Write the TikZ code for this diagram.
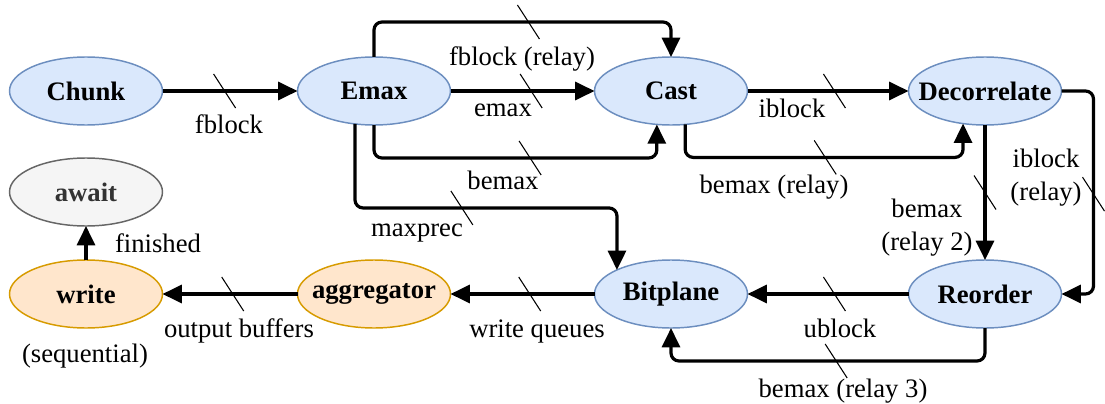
\documentclass[tikz,border=0pt]{standalone}
\usepackage{fontspec}
\setmainfont{Liberation Serif}
\usetikzlibrary{arrows.meta,shapes.geometric}
\definecolor{blueFill}{HTML}{DAE8FC}
\definecolor{blueLine}{HTML}{6C8EBF}
\definecolor{orangeFill}{HTML}{FFE6CC}
\definecolor{orangeLine}{HTML}{D79B00}
\definecolor{grayFill}{HTML}{F5F5F5}
\definecolor{grayLine}{HTML}{666666}
\definecolor{grayText}{HTML}{333333}

\begin{document}
\begin{tikzpicture}[x=0.75pt,y=-0.75pt,
  stage/.style={ellipse, minimum width=114.75pt, minimum height=51pt,
    inner xsep=-13pt, inner ysep=0pt, outer sep=0pt, line width=1.1pt,
    font=\fontsize{20}{24.5}\selectfont\bfseries},
  blue stage/.style={stage, draw=blueLine, fill=blueFill},
  orange stage/.style={stage, draw=orangeLine, fill=orangeFill},
  gray stage/.style={stage, draw=grayLine, fill=grayFill, text=grayText},
  flow/.style={line width=2.4pt, rounded corners=6pt,
    -{Triangle[length=14.5pt,width=13.5pt]}},
  lbl/.style={font=\fontsize{20}{24.5}\selectfont, inner sep=0pt,
    anchor=base, align=center},
  cutmark/.pic={\draw[line width=0.8pt, arrows=-, sharp corners]
    (-11,-17) -- (11,17);}
]
\useasboundingbox (0,0) rectangle (1105,403);

% pipeline stages
\node[blue stage] (Chunk) at (86,91) {Chunk};
\node[blue stage] (Emax) at (374,91) {Emax};
\node[blue stage] (Cast) at (671,91) {Cast};
\node[blue stage] (Decorrelate) at (985,91) {Decorrelate};
\node[gray stage] (await) at (86,192) {await};
\node[orange stage] (write) at (86,294) {write};
\node[orange stage] (aggregator) at (374,294) {aggregator};
\node[blue stage] (Bitplane) at (671,294) {Bitplane};
\node[blue stage] (Reorder) at (985,294) {Reorder};

% data channels
\draw[flow] (Chunk.east) -- (Emax.west) pic[pos=0.46]{cutmark};
\draw[flow] (Emax.north) -- ++(0,-35) -| (Cast.north) pic[pos=0.26]{cutmark};
\draw[flow] (Emax.east) -- (Cast.west) pic[pos=0.56]{cutmark};
\draw[flow] (Emax.south) -- ++(0,33) -| (Cast.247) pic[pos=0.276]{cutmark};
\draw[flow] (Emax.240) -- ++(0,84) -| (Bitplane.156) pic[pos=0.204]{cutmark};
\draw[flow] (Cast.east) -- (Decorrelate.west) pic[pos=0.54]{cutmark};
\draw[flow] (Cast.293) -- ++(0,33) -| (Decorrelate.236) pic[pos=0.252]{cutmark};
\draw[flow] (Decorrelate.south) -- (Reorder.north) pic[pos=0.5]{cutmark};
\draw[flow] (Decorrelate.east) -- ++(32,0) |- (Reorder.east) pic[pos=0.254]{cutmark};
\draw[flow] (Reorder.west) -- (Bitplane.east) pic[pos=0.46]{cutmark};
\draw[flow] (Reorder.south) -- ++(0,33) -| (Bitplane.south) pic[pos=0.237]{cutmark};
\draw[flow] (Bitplane.west) -- (aggregator.east) pic[pos=0.45]{cutmark};
\draw[flow] (aggregator.west) -- (write.east) pic[pos=0.48]{cutmark};
\draw[flow] (write.north) -- (await.south);

% channel labels (multi-line labels are anchored at their last line)
\node[lbl] (lblFblock) at (229,133) {fblock};
\node[lbl] (lblFblockRelay) at (522,65) {fblock (relay)};
\node[lbl] (lblEmax) at (503,116) {emax};
\node[lbl] (lblBemax) at (503,189) {bemax};
\node[lbl] (lblMaxprec) at (417,236) {maxprec};
\node[lbl] (lblIblock) at (792,117) {iblock};
\node[lbl] (lblBemaxRelay) at (774,193) {bemax (relay)};
\node[lbl] (lblIblockRelay) at (1046,200) {iblock\\(relay)};
\node[lbl] (lblBemaxRelayTwo) at (927,250) {bemax\\(relay 2)};
\node[lbl] (lblUblock) at (840,337) {ublock};
\node[lbl] (lblBemaxRelayThree) at (843,397) {bemax (relay 3)};
\node[lbl] (lblWriteQueues) at (537,337) {write queues};
\node[lbl] (lblOutputBuffers) at (239,337) {output buffers};
\node[lbl] (lblSequential) at (85,362) {(sequential)};
\node[lbl] (lblFinished) at (158,252) {finished};
\end{tikzpicture}
\end{document}
